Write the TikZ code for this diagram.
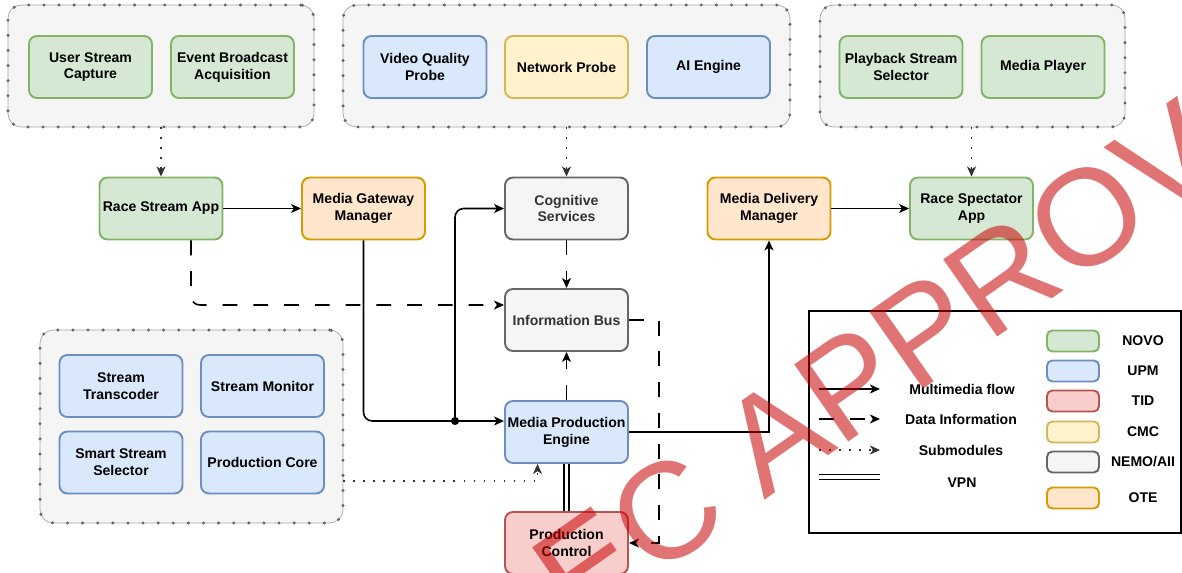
\documentclass[tikz,border=0pt]{standalone}
\usepackage{fontspec}
\setmainfont{Liberation Sans}
\usetikzlibrary{arrows.meta,calc}

\definecolor{gfill}{HTML}{D5E8D4}\definecolor{gline}{HTML}{82B366}
\definecolor{bfill}{HTML}{DAE8FC}\definecolor{bline}{HTML}{6C8EBF}
\definecolor{rfill}{HTML}{F8CECC}\definecolor{rline}{HTML}{B85450}
\definecolor{yfill}{HTML}{FFF2CC}\definecolor{yline}{HTML}{D6B656}
\definecolor{kfill}{HTML}{F5F5F5}\definecolor{kline}{HTML}{666666}
\definecolor{ofill}{HTML}{FFE6CC}\definecolor{oline}{HTML}{D79B00}
\definecolor{ktext}{HTML}{333333}
\definecolor{grpdot}{HTML}{666666}
\definecolor{stamp}{HTML}{C80000}

\tikzset{
  lbl/.style={font=\bfseries\fontsize{8}{9.6}\selectfont, align=center},
  box/.style={lbl, rectangle, rounded corners=4.5pt, line width=1.1pt,
    minimum width=2.46cm, minimum height=1.24cm, inner sep=0pt},
  novo/.style={box, fill=gfill, draw=gline},
  upm/.style={box, fill=bfill, draw=bline},
  tid/.style={box, fill=rfill, draw=rline},
  cmc/.style={box, fill=yfill, draw=yline},
  nemo/.style={box, fill=kfill, draw=kline, text=ktext},
  ote/.style={box, fill=ofill, draw=oline},
  grp/.style={rectangle, rounded corners=7.5pt, fill=kfill, draw=black!35,
    line width=0.4pt, inner sep=0pt,
    postaction={draw=grpdot, line width=1.9pt, line cap=round,
      dash pattern=on 0pt off 8.6pt}},
  tip/.style={-{Stealth[length=5.7pt,width=5.1pt,inset=1.6pt]}},
  flow/.style={tip, line width=0.9pt, draw=black},
  data/.style={tip, line width=0.9pt, draw=black, dash pattern=on 8.5pt off 9pt},
  sub/.style={tip, line width=0.9pt, draw=black!80, dash pattern=on 0.9pt off 4.8pt},
  vpn/.style={double, double distance=2pt, line width=0.8pt, draw=black},
  swatch/.style={rectangle, rounded corners=3pt, line width=1.1pt,
    minimum width=1.04cm, minimum height=0.42cm, inner sep=0pt},
}

\begin{document}
\begin{tikzpicture}[x=0.02cm, y=-0.02cm]
\useasboundingbox[fill=white] (0,0) rectangle (1182,573);

% module groups
\node[grp, minimum width=6.12cm, minimum height=2.44cm] (g1) at (161,66) {};
\node[grp, minimum width=8.94cm, minimum height=2.44cm] (g2) at (566.5,66) {};
\node[grp, minimum width=6.10cm, minimum height=2.44cm] (g3) at (972.5,66) {};
\node[grp, minimum width=6.06cm, minimum height=3.86cm] (g4) at (191.5,426.5) {};

% submodules
\node[novo] (usc) at (90.5,67) {User Stream\\Capture};
\node[novo] (eba) at (232.5,67) {Event Broadcast\\Acquisition};
\node[upm] (vqp) at (425,67) {Video Quality\\Probe};
\node[cmc] (np) at (566.5,67) {Network Probe};
\node[upm] (ai) at (708.5,67) {AI Engine};
\node[novo] (pss) at (901,67) {Playback Stream\\Selector};
\node[novo] (mp) at (1043,67) {Media Player};
\node[upm] (st) at (121,386) {Stream\\Transcoder};
\node[upm] (sm) at (262.5,386) {Stream Monitor};
\node[upm] (ssel) at (121,462.5) {Smart Stream\\Selector};
\node[upm] (pcore) at (262.5,462.5) {Production Core};

% main modules
\node[novo] (rsa) at (161,208.5) {Race Stream App};
\node[ote] (mgm) at (363.5,208.5) {Media Gateway\\Manager};
\node[nemo] (cs) at (566.5,208.5) {Cognitive\\Services};
\node[ote] (mdm) at (769,208.5) {Media Delivery\\Manager};
\node[novo] (rspa) at (971.5,208.5) {Race Spectator\\App};
\node[nemo] (ib) at (566.5,320) {Information Bus};
\node[upm] (mpe) at (566.5,432) {Media Production\\Engine};
\node[tid] (pc) at (566.5,543) {Production\\Control};

% submodule links
\draw[sub] (rsa.north |- g1.south) -- (rsa.north);
\draw[sub] (cs.north |- g2.south) -- (cs.north);
\draw[sub] (rspa.north |- g3.south) -- (rspa.north);
\draw[sub] ($(g4.east)+(0,54.5)$) -| ($(mpe.south)+(-29,0)$);

% multimedia flow
\coordinate (jn) at (455,421);
\draw[flow] (rsa.east) -- (mgm.west);
\draw[flow] (mdm.east) -- (rspa.west);
\draw[flow, rounded corners=5pt] (mgm.south) |- (jn) -- (jn -| mpe.west);
\draw[flow, rounded corners=5pt] (jn) |- (cs.west);
\fill (jn) circle (2.3pt);
\draw[flow] (mpe.east) -| (mdm.south);

% data information
\draw[data, rounded corners=5pt] ($(rsa.south)+(30,0)$) |- ($(ib.west)+(0,-15)$);
\draw[data] (cs.south) -- (ib.north);
\draw[data] (mpe.north) -- (ib.south);
\draw[data] (ib.east) -| ($(pc.east)+(30,0)$) -- (pc.east);

% VPN
\draw[vpn] (mpe.south) -- (pc.north);

% legend
\node[rectangle, draw=black, line width=1.1pt, minimum width=7.44cm,
  minimum height=4.44cm, inner sep=0pt] (leg) at (995,422) {};
\coordinate (la1) at (819,389); \coordinate (lb1) at (880,389);
\coordinate (la2) at (819,419); \coordinate (lb2) at (880,419);
\coordinate (la3) at (819,450); \coordinate (lb3) at (880,450);
\coordinate (la4) at (819,477); \coordinate (lb4) at (880,477);
\draw[flow] (la1) -- (lb1);
\draw[data] (la2) -- (lb2);
\draw[sub] (la3) -- (lb3);
\draw[vpn] (la4) -- (lb4);
\node[lbl] (t1) at (962,389) {Multimedia flow};
\node[lbl] (t2) at (961,419) {Data Information};
\node[lbl] (t3) at (961,450) {Submodules};
\node[lbl] (t4) at (962,483) {VPN};

\node[swatch, fill=gfill, draw=gline] (s1) at (1073,341) {};
\node[swatch, fill=bfill, draw=bline] (s2) at (1073,371) {};
\node[swatch, fill=rfill, draw=rline] (s3) at (1073,401) {};
\node[swatch, fill=yfill, draw=yline] (s4) at (1073,432) {};
\node[swatch, fill=kfill, draw=kline] (s5) at (1073,462) {};
\node[swatch, fill=ofill, draw=oline] (s6) at (1073,498) {};
\node[lbl] (n1) at (1143,341) {NOVO};
\node[lbl] (n2) at (1143,371) {UPM};
\node[lbl] (n3) at (1143,401) {TID};
\node[lbl] (n4) at (1143,432) {CMC};
\node[lbl] (n5) at (1143,462) {NEMO/AII};
\node[lbl] (n6) at (1143,498) {OTE};

% approval stamp
\begin{scope}
\clip (0,0) rectangle (1182,573);
\node[anchor=base west, rotate=35, inner sep=0pt, text=stamp, text opacity=0.55,
  font=\fontsize{78}{78}\selectfont] (stampText) at (577,632) {EC APPROVED};
\end{scope}
\end{tikzpicture}
\end{document}
